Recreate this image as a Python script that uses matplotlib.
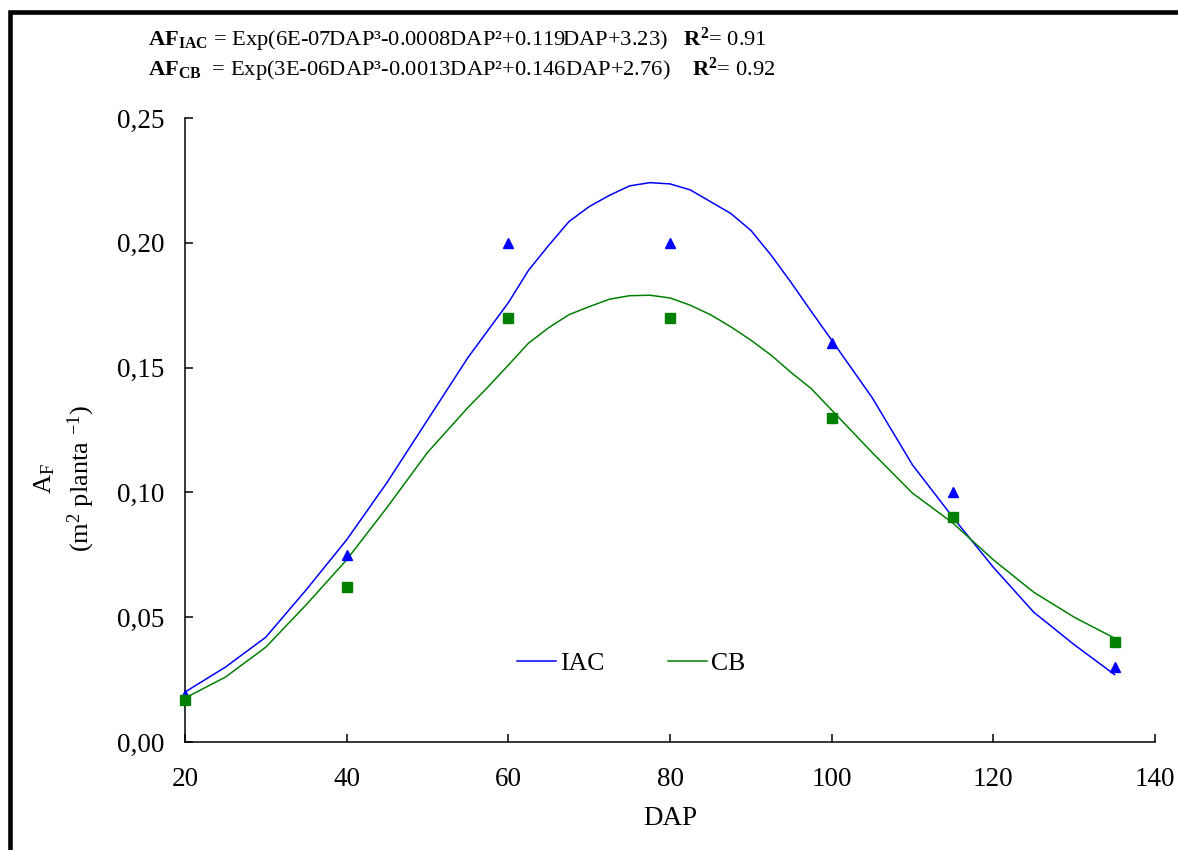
import matplotlib
matplotlib.use("Agg")
import matplotlib.pyplot as plt
from matplotlib.patches import Rectangle

plt.rcParams['font.family'] = ['Liberation Serif', 'DejaVu Serif']
plt.rcParams['mathtext.fontset'] = 'custom'
plt.rcParams['mathtext.rm'] = 'Liberation Serif'
plt.rcParams['mathtext.it'] = 'Liberation Serif:italic'
plt.rcParams['mathtext.bf'] = 'Liberation Serif:bold'

# Observed data
dap_obs = [20, 40, 60, 80, 100, 115, 135]
iac_obs = [0.019, 0.075, 0.200, 0.200, 0.160, 0.100, 0.030]
cb_obs = [0.017, 0.062, 0.170, 0.170, 0.130, 0.090, 0.040]

# Fitted curves
dap_fit = [20, 25, 30, 35, 40, 45, 50, 55, 57.5, 60, 62.5, 65, 67.5, 70, 72.5, 75,
           77.5, 80, 82.5, 85, 87.5, 90, 92.5, 95, 97.5, 100, 105, 110, 115,
           120, 125, 130, 135]
iac_fit = [0.020, 0.030, 0.042, 0.061, 0.081, 0.104, 0.129, 0.154, 0.165, 0.176,
           0.189, 0.199, 0.2085, 0.2145, 0.219, 0.2228, 0.2241, 0.2236, 0.2212, 0.2165,
           0.2118, 0.205, 0.1951, 0.184, 0.1724, 0.161, 0.138, 0.111, 0.090,
           0.070, 0.052, 0.039, 0.027]
cb_fit = [0.0176, 0.026, 0.038, 0.055, 0.073, 0.094, 0.116, 0.134, 0.1423, 0.151,
          0.1598, 0.166, 0.1712, 0.1744, 0.1774, 0.1788, 0.1790, 0.1779, 0.1750, 0.1712,
          0.1664, 0.161, 0.155, 0.148, 0.1415, 0.133, 0.116, 0.0997, 0.0877,
          0.073, 0.060, 0.050, 0.0416]

xticks = [20, 40, 60, 80, 100, 120, 140]
yticks = [0.00, 0.05, 0.10, 0.15, 0.20, 0.25]
ytick_labels = ['0,00', '0,05', '0,10', '0,15', '0,20', '0,25']

W, H = 1178, 850
fig = plt.figure(figsize=(W / 100, H / 100), dpi=100)
ax = fig.add_axes([185 / W, 1 - 742 / H, (1155 - 185) / W, (742 - 118) / H])

ax.plot(dap_fit, iac_fit, color='#0000FF', lw=1.1, label='IAC', zorder=2)
ax.plot(dap_fit, cb_fit, color='#008000', lw=1.1, label='CB', zorder=2)
ax.plot(dap_obs, iac_obs, linestyle='none', marker='^', ms=7, color='#0000FF', zorder=3, clip_on=False)
ax.plot(dap_obs, cb_obs, linestyle='none', marker='s', ms=7.5, color='#008000', zorder=4, clip_on=False)

ax.set_xlim(20, 140)
ax.set_ylim(0, 0.25)
ax.set_xticks(xticks)
ax.set_xticklabels([str(v) for v in xticks])
ax.set_yticks(yticks)
ax.set_yticklabels(ytick_labels)
for s in ['top', 'right']:
    ax.spines[s].set_visible(False)
for s in ['left', 'bottom']:
    ax.spines[s].set_linewidth(1.1)
ax.tick_params(axis='both', direction='in', length=6, width=1.1, labelsize=19.5)
ax.tick_params(axis='x', pad=18)
ax.tick_params(axis='y', pad=15)

ax.set_xlabel('DAP', fontsize=19.5, labelpad=10)

# y-axis label (two rotated lines)
fig.text(45 / W, 1 - 479 / H, 'A$_\\mathregular{F}$', fontsize=19, rotation=90,
         ha='center', va='center')
fig.text(81 / W, 1 - 478 / H, '(m$^\\mathregular{2}$ planta $^\\mathregular{-1}$)', fontsize=19,
         rotation=90, ha='center', va='center')

leg = ax.legend(loc='center', bbox_to_anchor=(0.46, 0.126), ncol=2, frameon=False,
                fontsize=18.5, handlelength=1.5, columnspacing=2.5, handletextpad=0.15)

fig.text(148 / W, 1 - 46 / H,
         r'$\mathbf{AF_{IAC}}$ = Exp(6E-07DAP³-0.0008DAP²+0.119DAP+3.23)   $\mathbf{R^2}$= 0.91',
         fontsize=16.2, va='baseline', ha='left')
fig.text(148 / W, 1 - 76 / H,
         r'$\mathbf{AF_{CB}}$  = Exp(3E-06DAP³-0.0013DAP²+0.146DAP+2.76)    $\mathbf{R^2}$= 0.92',
         fontsize=16.2, va='baseline', ha='left')

# figure frame (top and left visible)
fig.patches.append(Rectangle((10 / W, -0.2), 1.5, (1 - 12 / H) + 0.2, transform=fig.transFigure,
                             fill=False, lw=3.3, edgecolor='black'))

fig.savefig('out.png', dpi=100)
